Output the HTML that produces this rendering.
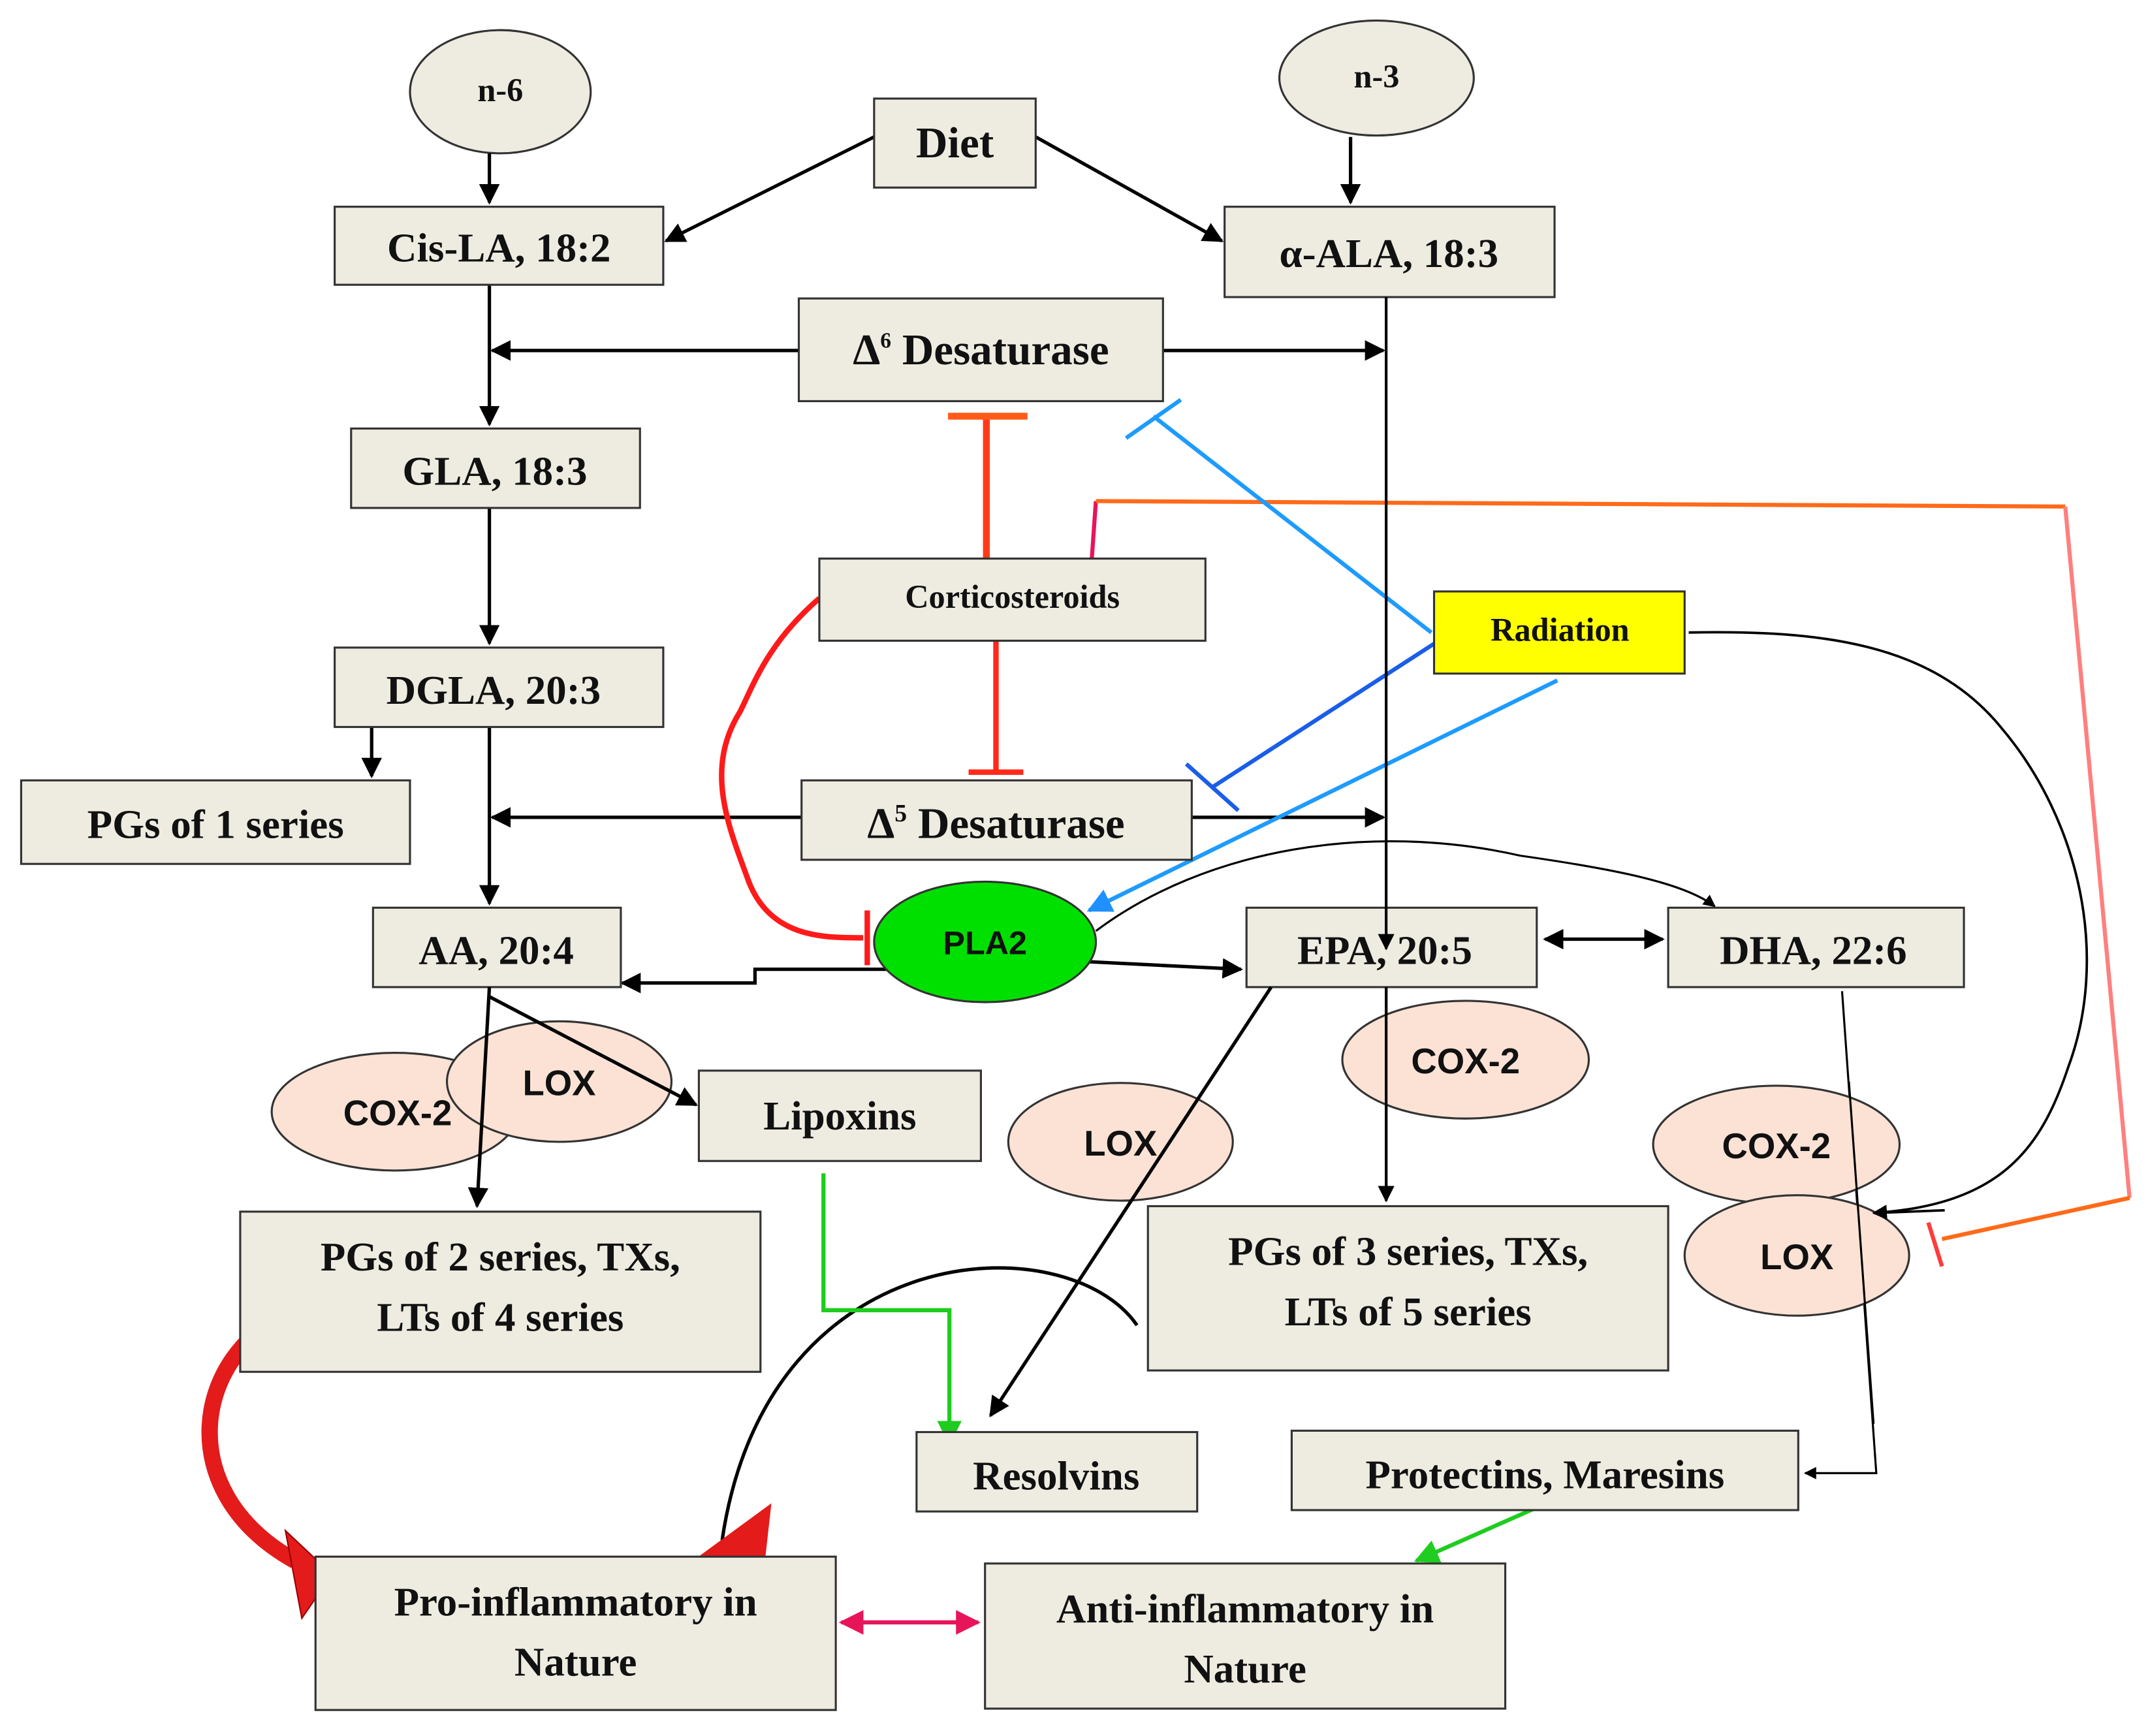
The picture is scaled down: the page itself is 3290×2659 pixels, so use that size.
<!DOCTYPE html>
<html><head><meta charset="utf-8">
<style>
html,body{margin:0;padding:0;background:#fff;}
svg{display:block;}
.b{fill:#eeece1;stroke:#333;stroke-width:1.5;}
.t{font-family:"Liberation Serif",serif;font-weight:bold;fill:#111;text-anchor:middle;}
.s{font-family:"Liberation Sans",sans-serif;font-weight:bold;fill:#111;text-anchor:middle;}
.k{stroke:#000;stroke-width:2.5;fill:none;}
.pe{fill:#fbe2d5;stroke:#333;stroke-width:1.5;}
</style></head><body>
<svg width="3290" height="2659" viewBox="0 0 1568 1268" xmlns="http://www.w3.org/2000/svg">
<defs>
<marker id="a" viewBox="0 0 10 10" refX="9" refY="5" markerWidth="6" markerHeight="6" orient="auto-start-reverse"><path d="M0,0 L10,5 L0,10 z" fill="#000"/></marker>
<marker id="ab" viewBox="0 0 10 10" refX="9" refY="5" markerWidth="6" markerHeight="6" orient="auto"><path d="M0,0 L10,5 L0,10 z" fill="#1e90ff"/></marker>
<marker id="ag" viewBox="0 0 10 10" refX="9" refY="5" markerWidth="6" markerHeight="6" orient="auto"><path d="M0,0 L10,5 L0,10 z" fill="#1fcc1f"/></marker>
<marker id="ap" viewBox="0 0 10 10" refX="9" refY="5" markerWidth="6" markerHeight="6" orient="auto-start-reverse"><path d="M0,0 L10,5 L0,10 z" fill="#e8145a"/></marker>
</defs>

<ellipse cx="365" cy="67" rx="66" ry="45" class="b"/>
<text x="365" y="74" class="t" font-size="24">n-6</text>
<ellipse cx="1005" cy="57" rx="71" ry="42" class="b"/>
<text x="1005" y="64" class="t" font-size="24">n-3</text>

<line x1="357" y1="112" x2="357" y2="148" class="k" marker-end="url(#a)"/>
<line x1="986" y1="100" x2="986" y2="148" class="k" marker-end="url(#a)"/>
<line x1="638" y1="100" x2="486" y2="176" class="k" marker-end="url(#a)"/>
<line x1="756" y1="100" x2="892" y2="176" class="k" marker-end="url(#a)"/>
<line x1="357" y1="208" x2="357" y2="310" class="k" marker-end="url(#a)"/>
<line x1="583" y1="256" x2="359" y2="256" class="k" marker-end="url(#a)"/>
<line x1="849" y1="256" x2="1010" y2="256" class="k" marker-end="url(#a)"/>
<line x1="357" y1="371" x2="357" y2="470" class="k" marker-end="url(#a)"/>
<line x1="357" y1="531" x2="357" y2="660" class="k" marker-end="url(#a)"/>
<line x1="271" y1="531" x2="271" y2="567" class="k" marker-end="url(#a)"/>
<line x1="585" y1="597" x2="359" y2="597" class="k" marker-end="url(#a)"/>
<line x1="870" y1="597" x2="1010" y2="597" class="k" marker-end="url(#a)"/>
<polyline points="655,708 551,708 551,718 454,718" class="k" marker-end="url(#a)"/>
<line x1="785" y1="702" x2="906" y2="708" class="k" marker-end="url(#a)"/>
<path d="M800,680 C880,620 1000,600 1110,625 C1180,635 1230,645 1252,662" class="k" style="stroke-width:1.5" marker-end="url(#a)"/>
<line x1="1128" y1="686" x2="1214" y2="686" class="k" marker-start="url(#a)" marker-end="url(#a)"/>
<line x1="1012" y1="721" x2="1012" y2="877" class="k" style="stroke-width:2" marker-end="url(#a)"/>
<polyline points="1345,724 1370,1076 1318,1076" class="k" style="stroke-width:1.5" marker-end="url(#a)"/>
<path d="M1233,462 C1330,460 1410,470 1460,530 C1520,600 1540,700 1510,780 C1490,840 1460,880 1368,886" class="k" style="stroke-width:1.8" marker-end="url(#a)"/>
<path d="M830,968 C780,895 560,900 527,1125" class="k" style="stroke-width:2.5"/>

<!-- red big curved arrow -->
<path d="M212,958 C140,990 125,1090 215,1140" stroke="#e41b1b" stroke-width="12" fill="none"/>
<polygon points="208,1118 242,1150 220,1182" fill="#e41b1b" stroke="#900" stroke-width="1"/>
<polygon points="492,1150 563,1098 556,1160" fill="#e41b1b"/>

<polyline points="601,857 601,957 693,957 693,1054" stroke="#1fcc1f" stroke-width="3" fill="none" marker-end="url(#ag)"/>
<line x1="1120" y1="1102" x2="1034" y2="1140" stroke="#1fcc1f" stroke-width="3" marker-end="url(#ag)"/>
<line x1="614" y1="1185" x2="714" y2="1185" stroke="#e8145a" stroke-width="3" marker-start="url(#ap)" marker-end="url(#ap)"/>

<line x1="720" y1="408" x2="720" y2="305" stroke="#ff3b1a" stroke-width="5"/>
<line x1="692" y1="304" x2="750" y2="304" stroke="#ff5a1a" stroke-width="5"/>
<line x1="727" y1="468" x2="727" y2="562" stroke="#ff2a1a" stroke-width="4"/>
<line x1="707" y1="564" x2="747" y2="564" stroke="#ff2a1a" stroke-width="4"/>
<path d="M598,437 C560,470 550,500 540,520 C515,560 530,600 545,640 C560,685 600,685 630,685" stroke="#ff1a1a" stroke-width="4" fill="none"/>
<line x1="633" y1="665" x2="633" y2="705" stroke="#ff1a1a" stroke-width="4"/>
<line x1="797" y1="408" x2="800" y2="366" stroke="#e8145a" stroke-width="3"/>
<polyline points="800,366 1508,370" stroke="#ff6a1a" stroke-width="3" fill="none"/>
<line x1="1508" y1="370" x2="1555" y2="875" stroke="#ff7f7f" stroke-width="3"/>
<line x1="1555" y1="875" x2="1418" y2="905" stroke="#ff6a1a" stroke-width="3"/>
<line x1="1408" y1="893" x2="1418" y2="925" stroke="#ff3b3b" stroke-width="3"/>

<line x1="1045" y1="462" x2="842" y2="304" stroke="#1e9bff" stroke-width="3"/>
<line x1="822" y1="320" x2="862" y2="292" stroke="#1e9bff" stroke-width="3"/>
<line x1="1055" y1="465" x2="885" y2="575" stroke="#1a5ee8" stroke-width="3"/>
<line x1="866" y1="558" x2="904" y2="592" stroke="#1a5ee8" stroke-width="3"/>
<line x1="1137" y1="497" x2="795" y2="665" stroke="#1e9bff" stroke-width="3" marker-end="url(#ab)"/>

<rect x="638" y="72" width="118" height="65" class="b"/><text x="697" y="115" class="t" font-size="32">Diet</text>
<rect x="244" y="151" width="240" height="57" class="b"/><text x="364" y="191" class="t" font-size="30">Cis-LA, 18:2</text>
<rect x="894" y="151" width="241" height="66" class="b"/><text x="1014" y="195" class="t" font-size="30">α-ALA, 18:3</text>
<rect x="583" y="218" width="266" height="75" class="b"/><text x="716" y="266" class="t" font-size="32">Δ<tspan font-size="16" dy="-12">6</tspan><tspan dy="12"> Desaturase</tspan></text>
<rect x="256" y="313" width="211" height="58" class="b"/><text x="361" y="354" class="t" font-size="30">GLA, 18:3</text>
<rect x="598" y="408" width="282" height="60" class="b"/><text x="739" y="444" class="t" font-size="24">Corticosteroids</text>
<rect x="1047" y="432" width="183" height="60" fill="#ffff00" stroke="#333" stroke-width="1.5"/><text x="1139" y="468" class="t" font-size="24">Radiation</text>
<rect x="244" y="473" width="240" height="58" class="b"/><text x="360" y="514" class="t" font-size="30">DGLA, 20:3</text>
<rect x="15" y="570" width="284" height="61" class="b"/><text x="157" y="612" class="t" font-size="30">PGs of 1 series</text>
<rect x="585" y="570" width="285" height="58" class="b"/><text x="727" y="612" class="t" font-size="32">Δ<tspan font-size="18" dy="-12">5</tspan><tspan dy="12"> Desaturase</tspan></text>
<rect x="272" y="663" width="181" height="58" class="b"/><text x="362" y="704" class="t" font-size="30">AA, 20:4</text>
<rect x="910" y="663" width="212" height="58" class="b"/><text x="1011" y="704" class="t" font-size="30">EPA, 20:5</text>
<rect x="1218" y="663" width="216" height="58" class="b"/><text x="1324" y="704" class="t" font-size="30">DHA, 22:6</text>
<rect x="510" y="782" width="206" height="66" class="b"/><text x="613" y="825" class="t" font-size="30">Lipoxins</text>
<rect x="175" y="885" width="380" height="117" class="b"/><text x="365" y="928" class="t" font-size="30">PGs of 2 series, TXs,</text><text x="365" y="972" class="t" font-size="30">LTs of 4 series</text>
<rect x="838" y="881" width="380" height="120" class="b"/><text x="1028" y="924" class="t" font-size="30">PGs of 3 series, TXs,</text><text x="1028" y="968" class="t" font-size="30">LTs of 5 series</text>
<rect x="669" y="1046" width="205" height="58" class="b"/><text x="771" y="1088" class="t" font-size="30">Resolvins</text>
<rect x="943" y="1045" width="370" height="58" class="b"/><text x="1128" y="1087" class="t" font-size="30">Protectins, Maresins</text>
<rect x="230" y="1137" width="380" height="112" class="b"/><text x="420" y="1180" class="t" font-size="30">Pro-inflammatory in</text><text x="420" y="1224" class="t" font-size="30">Nature</text>
<rect x="719" y="1142" width="380" height="106" class="b"/><text x="909" y="1185" class="t" font-size="30">Anti-inflammatory in</text><text x="909" y="1229" class="t" font-size="30">Nature</text>

<!-- alpha-ALA -> EPA line drawn over boxes -->
<line x1="1012" y1="217" x2="1012" y2="693" class="k" style="stroke-width:2" marker-end="url(#a)"/>

<ellipse cx="288" cy="812" rx="90" ry="43" class="pe"/>
<ellipse cx="408" cy="790" rx="82" ry="44" class="pe"/>
<line x1="357" y1="721" x2="348" y2="881" class="k" marker-end="url(#a)"/>
<line x1="357" y1="728" x2="508" y2="807" class="k" marker-end="url(#a)"/>
<text x="290" y="822" class="s" font-size="26">COX-2</text>
<text x="408" y="800" class="s" font-size="26">LOX</text>
<ellipse cx="1070" cy="774" rx="90" ry="43" class="pe"/>
<line x1="1012" y1="721" x2="1012" y2="877" class="k" style="stroke-width:2" marker-end="url(#a)"/>
<text x="1070" y="784" class="s" font-size="26">COX-2</text>
<ellipse cx="818" cy="834" rx="82" ry="43" class="pe"/>
<text x="818" y="844" class="s" font-size="26">LOX</text>
<line x1="928" y1="721" x2="723" y2="1034" class="k" marker-end="url(#a)"/>
<ellipse cx="1297" cy="836" rx="90" ry="43" class="pe"/>
<ellipse cx="1312" cy="917" rx="82" ry="44" class="pe"/>
<line x1="1350" y1="790" x2="1368" y2="1040" class="k" style="stroke-width:1.5"/>
<text x="1297" y="846" class="s" font-size="26">COX-2</text>
<text x="1312" y="927" class="s" font-size="26">LOX</text>
<path d="M1420,884 L1368,886" class="k" style="stroke-width:1.8" marker-end="url(#a)"/>

<ellipse cx="719" cy="688" rx="81" ry="44" fill="#00e000" stroke="#333" stroke-width="1.5"/>
<text x="719" y="697" class="s" font-size="24">PLA2</text>
</svg>
</body></html>
